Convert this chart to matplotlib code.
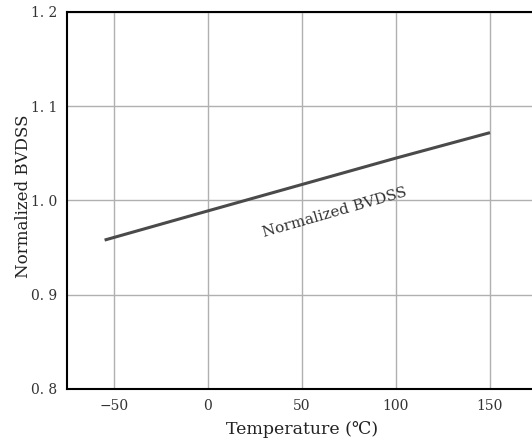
import matplotlib
matplotlib.use("Agg")
import matplotlib.pyplot as plt

temperature = [-55, 0, 50, 100, 150]
bvdss = [0.958, 0.989, 1.017, 1.045, 1.072]
x_ticks = [-50, 0, 50, 100, 150]
y_ticks = [0.8, 0.9, 1.0, 1.1, 1.2]
y_tick_labels = ["0. 8", "0. 9", "1. 0", "1. 1", "1. 2"]

plt.rcParams['font.family'] = ['DejaVu Serif', 'Noto Sans CJK SC']

fig = plt.figure(figsize=(5.32, 4.44), dpi=100)
ax = fig.add_axes([67/532, 55/444, 470/532, 377/444])

ax.plot(temperature, bvdss, color='#4a4a4a', lw=2.2, solid_capstyle='butt', zorder=3)

ax.set_xlim(-75, 175)
ax.set_ylim(0.8, 1.2)
ax.set_xticks(x_ticks)
ax.set_yticks(y_ticks)
ax.set_yticklabels(y_tick_labels)
ax.tick_params(length=0, labelsize=10, labelcolor='#333333', pad=7)
ax.grid(True, color='#b0b0b0', lw=1)
ax.set_axisbelow(True)

for s in ['left', 'bottom', 'top']:
    ax.spines[s].set_linewidth(1.5)
    ax.spines[s].set_color('black')
ax.spines['right'].set_visible(False)

ax.set_xlabel("Temperature (℃)", fontsize=12.5, color='#222222', labelpad=6)
ax.set_ylabel("Normalized BVDSS", fontsize=12, color='#222222', labelpad=6)
ax.yaxis.set_label_coords(-0.075, 0.51)

ax.text(67.5, 0.987, "Normalized BVDSS", rotation=16, fontsize=11, color='#333333',
        ha='center', va='center')

fig.savefig("out.png", dpi=100)
